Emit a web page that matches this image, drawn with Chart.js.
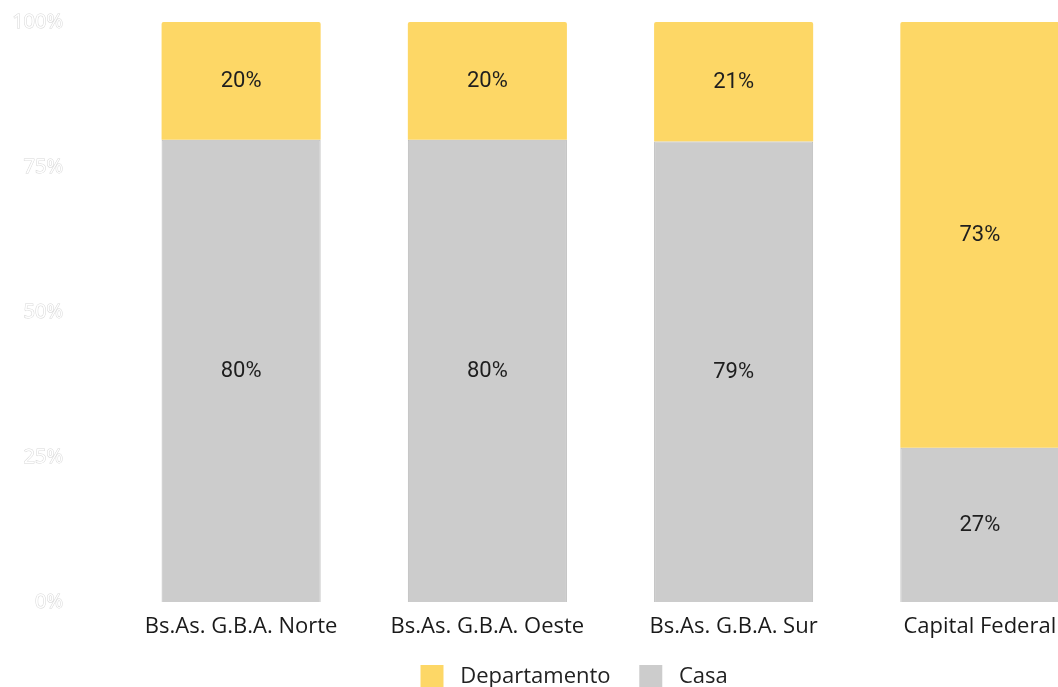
<!DOCTYPE html>
<html>
<head>
<meta charset="utf-8">
<script src="https://cdn.jsdelivr.net/npm/chart.js@4/dist/chart.umd.min.js"></script>
<style>
  html, body { margin: 0; padding: 0; background: #fff; overflow: hidden; }
  #wrap { width: 1058px; height: 687px; overflow: hidden; position: relative; }
  #box { width: 1154px; height: 698px; position: absolute; left: 0; top: 0; }
</style>
</head>
<body>
<div id="wrap"><div id="box"><canvas id="c"></canvas></div></div>
<script>
const categories = ["Bs.As. G.B.A. Norte", "Bs.As. G.B.A. Oeste", "Bs.As. G.B.A. Sur", "Capital Federal"];
const casaValues = [79.7, 79.7, 79.4, 26.6];
const departamentoValues = [20.3, 20.3, 20.6, 73.4];
const yTicks = [0, 25, 50, 75, 100];

const barLabels = {
  id: 'barLabels',
  afterDatasetsDraw(chart) {
    const ctx = chart.ctx;
    ctx.save();
    ctx.font = '22px Roboto';
    ctx.fillStyle = '#1e1e1e';
    ctx.textAlign = 'center';
    ctx.textBaseline = 'middle';
    chart.data.datasets.forEach((ds, i) => {
      const meta = chart.getDatasetMeta(i);
      meta.data.forEach((bar, j) => {
        const y = (bar.y + bar.base) / 2 + 1;
        ctx.fillText(Math.round(ds.data[j]) + '%', bar.x, y);
      });
    });
    ctx.restore();
  }
};

const chart = new Chart(document.getElementById('c'), {
  type: 'bar',
  data: {
    labels: categories,
    datasets: [
      { label: 'Casa', data: casaValues, backgroundColor: '#CCCCCC', borderColor: '#BBBBBB', borderWidth: 1, borderSkipped: 'bottom' },
      { label: 'Departamento', data: departamentoValues, backgroundColor: '#FDD766', borderColor: '#FDD766', borderWidth: 0, borderRadius: {topLeft: 2, topRight: 2} }
    ]
  },
  options: {
    responsive: true,
    maintainAspectRatio: false,
    animation: false,
    layout: { padding: { top: 22, right: 0, left: 0, bottom: 0 } },
    datasets: { bar: { barPercentage: 0.646, categoryPercentage: 1 } },
    scales: {
      x: {
        stacked: true,
        afterFit(scale) { scale.height = 40; },
        grid: { display: false, drawTicks: false },
        border: { display: false },
        ticks: { color: '#1a1a1a', font: { family: 'Open Sans', size: 22 }, padding: 12 }
      },
      y: {
        stacked: true,
        min: 0, max: 100,
        afterBuildTicks(scale) { scale.ticks = yTicks.map(v => ({ value: v })); },
        afterFit(scale) { scale.width = 118; },
        grid: { display: false, drawTicks: true, tickLength: 55 },
        border: { display: false },
        ticks: {
          callback: v => v + '%',
          color: '#ffffff',
          textStrokeColor: '#d6d6d6',
          textStrokeWidth: 1,
          font: { family: 'Open Sans', size: 20 },
          padding: 0
        }
      },
      yRight: {
        type: 'linear',
        position: 'right',
        afterFit(scale) { scale.width = 51; },
        grid: { display: false, drawTicks: false },
        border: { display: false },
        ticks: { display: false }
      }
    },
    plugins: {
      legend: {
        position: 'bottom',
        reverse: true,
        labels: {
          boxWidth: 23, boxHeight: 23, padding: 23,
          color: '#222',
          font: { family: 'Open Sans', size: 22 },
          generateLabels(c) {
            return Chart.defaults.plugins.legend.labels.generateLabels(c).map(it => Object.assign(it, { text: ' ' + it.text + ' ', lineWidth: 0 }));
          }
        }
      },
      tooltip: { enabled: false }
    }
  },
  plugins: [barLabels]
});
</script>
</body>
</html>
